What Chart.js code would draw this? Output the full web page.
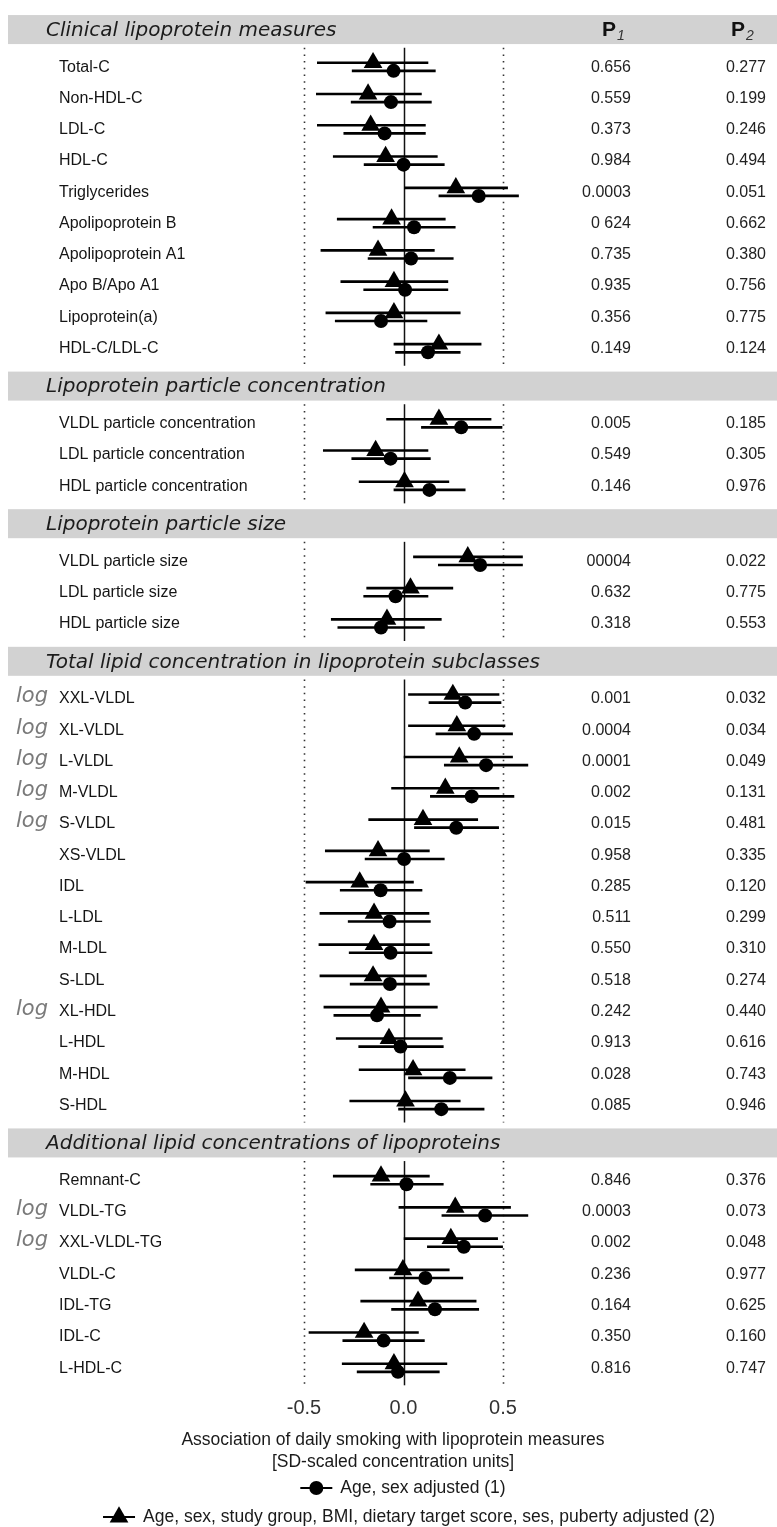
<!DOCTYPE html>
<html>
<head>
<meta charset="utf-8">
<script src="https://cdn.jsdelivr.net/npm/chart.js@4"></script>
<style>
  html, body { margin: 0; padding: 0; background: #fff; }
  #wrap { width: 777px; height: 1527px; position: relative; }
</style>
</head>
<body>
<div id="wrap"><canvas id="forest"></canvas></div>
<script>
// sections and rows
const sectionTitles = [
  "Clinical lipoprotein measures",
  "Lipoprotein particle concentration",
  "Lipoprotein particle size",
  "Total lipid concentration in lipoprotein subclasses",
  "Additional lipid concentrations of lipoproteins"
]
const sectionSizes = [10, 3, 3, 14, 7]

const labels = [
  "Total-C", "Non-HDL-C", "LDL-C", "HDL-C", "Triglycerides", "Apolipoprotein B",
  "Apolipoprotein A1", "Apo B/Apo A1", "Lipoprotein(a)", "HDL-C/LDL-C",
  "VLDL particle concentration", "LDL particle concentration", "HDL particle concentration",
  "VLDL particle size", "LDL particle size", "HDL particle size",
  "XXL-VLDL", "XL-VLDL", "L-VLDL", "M-VLDL", "S-VLDL", "XS-VLDL", "IDL", "L-LDL",
  "M-LDL", "S-LDL", "XL-HDL", "L-HDL", "M-HDL", "S-HDL",
  "Remnant-C", "VLDL-TG", "XXL-VLDL-TG", "VLDL-C", "IDL-TG", "IDL-C", "L-HDL-C"
]
const logged = ["XXL-VLDL", "XL-VLDL", "L-VLDL", "M-VLDL", "S-VLDL", "XL-HDL", "VLDL-TG", "XXL-VLDL-TG"]

// model 1: age, sex adjusted (circle)
const est1 = [-0.05, -0.063, -0.095, 0.0, 0.378, 0.053, 0.038, 0.008, -0.113, 0.123,
  0.29, -0.065, 0.13,
  0.385, -0.04, -0.113,
  0.31, 0.355, 0.415, 0.343, 0.265, 0.003, -0.115, -0.07, -0.065, -0.068, -0.133, -0.015, 0.233, 0.19,
  0.015, 0.41, 0.303, 0.11, 0.158, -0.1, -0.028]
const lo1 = [-0.258, -0.263, -0.30, -0.198, 0.178, -0.153, -0.178, -0.2, -0.343, -0.04,
  0.09, -0.26, -0.048,
  0.175, -0.2, -0.33,
  0.128, 0.163, 0.205, 0.135, 0.055, -0.193, -0.318, -0.278, -0.273, -0.268, -0.35, -0.225, 0.025, -0.025,
  -0.165, 0.193, 0.12, -0.07, -0.06, -0.305, -0.233]
const hi1 = [0.16, 0.14, 0.11, 0.205, 0.578, 0.26, 0.25, 0.223, 0.118, 0.285,
  0.495, 0.135, 0.31,
  0.598, 0.123, 0.105,
  0.49, 0.548, 0.625, 0.555, 0.478, 0.205, 0.093, 0.135, 0.143, 0.13, 0.085, 0.2, 0.445, 0.405,
  0.2, 0.625, 0.498, 0.298, 0.378, 0.105, 0.18]

// model 2: fully adjusted (triangle)
const est2 = [-0.153, -0.178, -0.165, -0.09, 0.263, -0.06, -0.128, -0.048, -0.048, 0.178,
  0.178, -0.14, 0.005,
  0.323, 0.035, -0.083,
  0.248, 0.268, 0.28, 0.21, 0.098, -0.128, -0.22, -0.148, -0.148, -0.153, -0.113, -0.073, 0.048, 0.01,
  -0.113, 0.26, 0.238, -0.003, 0.073, -0.198, -0.048]
const lo2 = [-0.433, -0.438, -0.433, -0.353, 0.005, -0.333, -0.415, -0.315, -0.39, -0.048,
  -0.085, -0.403, -0.223,
  0.05, -0.185, -0.363,
  0.025, 0.025, 0.003, -0.06, -0.175, -0.393, -0.49, -0.42, -0.425, -0.42, -0.4, -0.338, -0.223, -0.27,
  -0.353, -0.023, 0.003, -0.243, -0.215, -0.475, -0.308]
const hi2 = [0.123, 0.09, 0.11, 0.17, 0.523, 0.21, 0.155, 0.223, 0.285, 0.39,
  0.44, 0.123, 0.228,
  0.598, 0.248, 0.19,
  0.48, 0.51, 0.548, 0.48, 0.373, 0.13, 0.05, 0.128, 0.13, 0.115, 0.17, 0.195, 0.31, 0.285,
  0.13, 0.538, 0.473, 0.23, 0.365, 0.075, 0.218]

const p1 = ["0.656", "0.559", "0.373", "0.984", "0.0003", "0 624", "0.735", "0.935", "0.356", "0.149",
  "0.005", "0.549", "0.146",
  "00004", "0.632", "0.318",
  "0.001", "0.0004", "0.0001", "0.002", "0.015", "0.958", "0.285", "0.511", "0.550", "0.518", "0.242", "0.913", "0.028", "0.085",
  "0.846", "0.0003", "0.002", "0.236", "0.164", "0.350", "0.816"]
const p2 = ["0.277", "0.199", "0.246", "0.494", "0.051", "0.662", "0.380", "0.756", "0.775", "0.124",
  "0.185", "0.305", "0.976",
  "0.022", "0.775", "0.553",
  "0.032", "0.034", "0.049", "0.131", "0.481", "0.335", "0.120", "0.299", "0.310", "0.274", "0.440", "0.616", "0.743", "0.946",
  "0.376", "0.073", "0.048", "0.977", "0.625", "0.160", "0.747"]

const xTicks = [-0.5, 0, 0.5]
const axisTitle = ["Association of daily smoking with lipoprotein measures", "[SD-scaled concentration units]"]
const legendLabels = ["Age, sex adjusted (1)", "Age, sex, study group, BMI, dietary target score, ses, puberty adjusted (2)"]

// row slots on the y scale: one unit per row, header sits 1.2 units from its neighbours
const HEAD_GAP = 1.2
const rowPos = []
const headPos = []
const sectionSpan = []
let pos = 0
sectionSizes.forEach((n, s) => {
  headPos.push(pos - HEAD_GAP)
  sectionSpan.push([pos, pos + n - 1])
  for (let i = 0; i < n; i++) rowPos.push(pos + i)
  pos += n - 1 + 2 * HEAD_GAP
})

const TRI_SHIFT = -0.14
const DOT_SHIFT = 0.12

const ci1 = rowPos.map((y, i) => ({x: [lo1[i], hi1[i]], y: y + DOT_SHIFT}))
const ci2 = rowPos.map((y, i) => ({x: [lo2[i], hi2[i]], y: y + TRI_SHIFT}))
const pts1 = rowPos.map((y, i) => ({x: est1[i], y: y + DOT_SHIFT}))
const pts2 = rowPos.map((y, i) => ({x: est2[i], y: y + TRI_SHIFT}))

const SANS = "'Liberation Sans', Arial, sans-serif"
const TITLE_FONT = "oblique 20px 'DejaVu Sans', sans-serif"

const forestText = {
  id: "forestText",
  beforeDatasetsDraw(chart) {
    const ctx = chart.ctx
    const xs = chart.scales.x, ys = chart.scales.y
    ctx.save()
    // reference lines per section
    sectionSpan.forEach(([a, b]) => {
      const top = ys.getPixelForValue(a - 0.62)
      const bot = ys.getPixelForValue(b + 0.55)
      xTicks.forEach(t => {
        const x = Math.round(xs.getPixelForValue(t)) + 0.5
        ctx.beginPath()
        if (t === 0) {
          ctx.setLineDash([])
          ctx.strokeStyle = "#111"
          ctx.lineWidth = 1.5
        } else {
          ctx.setLineDash([1.5, 5.2])
          ctx.strokeStyle = "#333"
          ctx.lineWidth = 1.6
        }
        ctx.moveTo(x, top)
        ctx.lineTo(x, bot)
        ctx.stroke()
      })
    })
    ctx.setLineDash([])
    // section header bars
    headPos.forEach((h, s) => {
      const yc = ys.getPixelForValue(h)
      ctx.fillStyle = "#d2d2d2"
      ctx.fillRect(8, yc - 14.5, 777 - 8, 29)
      ctx.fillStyle = "#1c1c1c"
      ctx.font = TITLE_FONT
      ctx.textAlign = "left"
      ctx.textBaseline = "middle"
      ctx.fillText(sectionTitles[s], 46, yc + 1)
    })
    ctx.restore()
  },
  afterDraw(chart) {
    const ctx = chart.ctx
    const ys = chart.scales.y
    ctx.save()
    ctx.textBaseline = "middle"
    // P headers
    const hy = ys.getPixelForValue(headPos[0])
    ;[[602, "1"], [731, "2"]].forEach(([x, sub]) => {
      ctx.fillStyle = "#111"
      ctx.textAlign = "left"
      ctx.font = "bold 21px " + SANS
      ctx.fillText("P", x, hy + 1)
      const w = ctx.measureText("P").width
      ctx.font = "italic 14px " + SANS
      ctx.fillStyle = "#333"
      ctx.fillText(sub, x + w + 1, hy + 7)
    })
    // row labels and p-values
    rowPos.forEach((y, i) => {
      const py = ys.getPixelForValue(y)
      ctx.font = "16px " + SANS
      ctx.fillStyle = "#151515"
      ctx.textAlign = "left"
      ctx.fillText(labels[i], 59, py)
      ctx.textAlign = "right"
      ctx.fillStyle = "#222"
      ctx.fillText(p1[i], 631, py)
      ctx.fillText(p2[i], 766, py)
      if (logged.includes(labels[i])) {
        ctx.font = "oblique 21px 'DejaVu Sans', sans-serif"
        ctx.fillStyle = "#7a7a7a"
        ctx.textAlign = "left"
        ctx.fillText("log", 16, py - 2)
      }
    })
    // axis title
    ctx.font = "17.5px " + SANS
    ctx.fillStyle = "#1a1a1a"
    ctx.textAlign = "center"
    ctx.fillText(axisTitle[0], 393, 1440)
    ctx.fillText(axisTitle[1], 393, 1462)
    // legend
    const legendY = [1488, 1517]
    const legendCx = [403, 409]
    legendLabels.forEach((txt, i) => {
      ctx.font = "17.5px " + SANS
      const tw = ctx.measureText(txt).width
      const x0 = legendCx[i] - (32 + 8 + tw) / 2
      const y = legendY[i]
      ctx.strokeStyle = "#000"
      ctx.lineWidth = 2.2
      ctx.beginPath()
      ctx.moveTo(x0, y)
      ctx.lineTo(x0 + 32, y)
      ctx.stroke()
      ctx.fillStyle = "#000"
      ctx.beginPath()
      if (i === 0) {
        ctx.arc(x0 + 16, y, 7, 0, Math.PI * 2)
      } else {
        ctx.moveTo(x0 + 16, y - 10.8)
        ctx.lineTo(x0 + 16 + 9.35, y + 5.4)
        ctx.lineTo(x0 + 16 - 9.35, y + 5.4)
        ctx.closePath()
      }
      ctx.fill()
      ctx.fillStyle = "#1a1a1a"
      ctx.textAlign = "left"
      ctx.fillText(txt, x0 + 40, y)
    })
    ctx.restore()
  }
}

new Chart(document.getElementById("forest"), {
  type: "scatter",
  data: {
    datasets: [
      {
        type: "bar", indexAxis: "y", label: "ci2", data: ci2,
        backgroundColor: "#000", borderWidth: 0, barThickness: 2, grouped: false, clip: false
      },
      {
        type: "bar", indexAxis: "y", label: "ci1", data: ci1,
        backgroundColor: "#000", borderWidth: 0, barThickness: 2, grouped: false, clip: false
      },
      {
        type: "scatter", label: legendLabels[1], data: pts2,
        pointStyle: "triangle", pointRadius: 10.8, backgroundColor: "#000", borderWidth: 0, clip: false
      },
      {
        type: "scatter", label: legendLabels[0], data: pts1,
        pointStyle: "circle", pointRadius: 7, backgroundColor: "#000", borderWidth: 0, clip: false
      }
    ]
  },
  options: {
    responsive: true,
    maintainAspectRatio: false,
    animation: false,
    layout: {padding: {left: 304, right: 274, top: 9, bottom: 0}},
    plugins: {legend: {display: false}, tooltip: {enabled: false}},
    scales: {
      x: {
        type: "linear", min: -0.5, max: 0.5, offset: false,
        grid: {display: false, drawTicks: false},
        border: {display: false},
        afterBuildTicks: scale => { scale.ticks = xTicks.map(v => ({value: v})) },
        afterFit: scale => { scale.height = 137 },
        ticks: {
          padding: 6,
          color: "#333",
          font: {family: "'Liberation Sans', Arial, sans-serif", size: 20},
          callback: v => v.toFixed(1)
        }
      },
      y: {
        type: "linear", reverse: true, min: -1.8, max: 42.3, offset: false, display: false
      }
    }
  },
  plugins: [forestText]
})
</script>
</body>
</html>
